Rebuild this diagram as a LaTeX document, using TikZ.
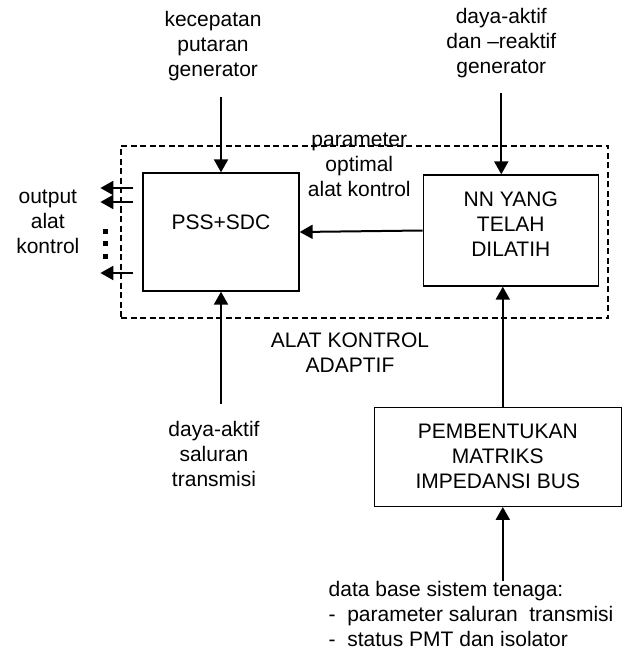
\documentclass[tikz,border=0pt]{standalone}
\usepackage{fontspec}
\setmainfont{Liberation Sans}
\usetikzlibrary{arrows.meta}
\usetikzlibrary{positioning}
\tikzset{
  > = {Triangle[length=13pt, width=14pt]},
  blok/.style = {rectangle,
                 draw,
                 line width = 1.3pt,
                 align = center,
                 font = \fontsize{21}{25}\selectfont,
                 inner sep = 0pt},
  ket/.style = {align = center,
                font = \fontsize{21}{25}\selectfont,
                inner sep = 0pt,
                outer sep = 0pt},
  bingkai/.style = {rectangle,
                    draw,
                    line width = 1.3pt,
                    dash pattern = on 6pt off 3.5pt,
                    inner sep = 0pt},
  panah/.style = {->, line width = 2pt}
}

\begin{document}
\begin{tikzpicture}[x = 1pt, y = -1pt]
\useasboundingbox (0,0) rectangle (625,652);

\node[blok, minimum width = 156pt, minimum height = 118pt, text depth = 20pt](pss) at (221,232){PSS+SDC};

\node[blok, minimum width = 175pt, minimum height = 111pt, text depth = 12pt](nn)[right = 123pt of pss, yshift = 1.5pt]{NN YANG\\TELAH\\DILATIH};

\node[blok, minimum width = 247pt, minimum height = 99pt](pemb)[below = 120pt of nn, xshift = -13pt]{PEMBENTUKAN\\MATRIKS\\IMPEDANSI BUS};

\node[bingkai, minimum width = 487pt, minimum height = 172pt](adaptif) at (364.5,232){};

% keterangan
\node[ket](kec)[above = 91pt of pss, xshift = -8pt]{kecepatan\\putaran\\generator};
\node[ket](dayagen)[above = 96pt of nn, xshift = -9.5pt]{daya-aktif\\dan –reaktif\\generator};
\node[ket](dayasal)[below = 130pt of pss, xshift = -7pt]{daya-aktif\\saluran\\transmisi};
\node[ket](output)[left = 63pt of pss, yshift = 10pt]{output\\alat\\kontrol};
\node[ket](param)[left = 12pt of nn, yshift = 66pt]{parameter\\optimal\\alat kontrol};
\node[ket](judul)[below = 14pt of adaptif, xshift = -14.5pt]{ALAT KONTROL\\ADAPTIF};
\node[ket, align = left](db)[below right = 74pt and -45pt of pemb.south west]{data base sistem tenaga:\\-~ parameter saluran~ transmisi\\-~ status PMT dan isolator};

% panah
\draw[panah] ([yshift = -16pt]kec.south -| pss.north) -- (pss.north);
\draw[panah] ([yshift = -15pt]dayagen.south) -- (dayagen.south |- nn.north);
\draw[panah] ([yshift = 18pt]dayasal.north -| pss.south) -- (pss.south);
\draw[panah] (nn.west) -- (pss.east);
\draw[panah] ([xshift = 5pt]pemb.north) -- ([xshift = 5pt]pemb.north |- nn.south);
\draw[panah] ([xshift = 5pt]pemb.south |- db.north) -- ([xshift = 5pt]pemb.south);

\foreach \dy in {44,30,-41}
  \draw[panah] ([xshift = -9pt, yshift = \dy pt]pss.west) -- ++(-33,0);

\foreach \y in {231,243,256}
  \fill (102.5,\y-2.5) rectangle ++(5,5);

\end{tikzpicture}
\end{document}
